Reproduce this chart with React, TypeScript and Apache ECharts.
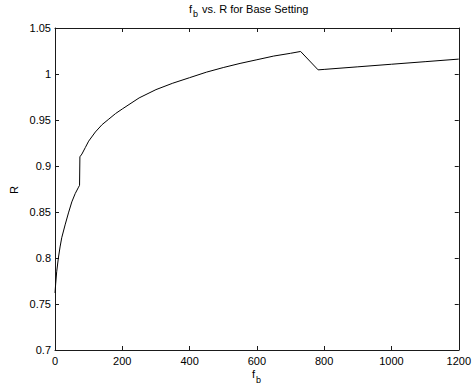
import React, { useEffect, useRef } from "react";
import * as echarts from "echarts";

const fbValues = [0, 2, 5, 10, 15, 20, 30, 40, 50, 60, 70, 73, 74, 80, 90, 100, 120, 140, 160, 180, 200, 250, 300, 350, 400, 450, 500, 550, 600, 650, 700, 730, 782, 800, 900, 1000, 1100, 1200];
const rValues = [0.762, 0.772, 0.785, 0.8, 0.812, 0.822, 0.836, 0.849, 0.861, 0.87, 0.877, 0.879, 0.91, 0.913, 0.92, 0.927, 0.937, 0.945, 0.951, 0.957, 0.962, 0.974, 0.983, 0.99, 0.996, 1.002, 1.007, 1.0115, 1.0155, 1.0195, 1.0225, 1.0245, 1.0045, 1.005, 1.0078, 1.0106, 1.0134, 1.0162];
const xTicks = { min: 0, max: 1200, interval: 200 };
const yTicks = { min: 0.7, max: 1.05, interval: 0.05 };
const titleMain = " vs. R for Base Setting";
const xName = "f";
const sub = "b";
const yName = "R";

const FONT = "'Liberation Sans', Arial, sans-serif";
const AX = "#1a1a1a";

export default function App() {
  const ref = useRef<HTMLDivElement>(null);
  useEffect(() => {
    document.body.style.margin = "0";
    const chart = echarts.init(ref.current!, null, { renderer: "svg" });
    const data = fbValues.map((x, i) => [x, rValues[i]]);
    const tickStyle = { inside: true, length: 4, lineStyle: { color: AX, width: 1 } };
    const lineStyle = { lineStyle: { color: AX, width: 1 } };
    const labelStyle = { color: "#000", fontFamily: FONT, fontSize: 11 };
    chart.setOption({
      animation: false,
      backgroundColor: "#ffffff",
      textStyle: { fontFamily: FONT },
      grid: { left: 55, right: 11, top: 28, bottom: 42, containLabel: false },
      xAxis: [
        {
          type: "value", ...xTicks, position: "bottom",
          axisLine: { show: true, onZero: false, ...lineStyle },
          axisTick: tickStyle,
          axisLabel: { ...labelStyle, margin: 5, formatter: (v: number) => String(v) },
          splitLine: { show: false },
        },
        {
          type: "value", ...xTicks, position: "top",
          axisLine: { show: true, onZero: false, ...lineStyle },
          axisTick: tickStyle,
          axisLabel: { show: false },
          splitLine: { show: false },
        },
      ],
      yAxis: [
        {
          type: "value", ...yTicks, position: "left",
          axisLine: { show: true, onZero: false, ...lineStyle },
          axisTick: tickStyle,
          axisLabel: { ...labelStyle, margin: 4, formatter: (v: number) => String(+v.toFixed(2)) },
          splitLine: { show: false },
        },
        {
          type: "value", ...yTicks, position: "right",
          axisLine: { show: true, onZero: false, ...lineStyle },
          axisTick: tickStyle,
          axisLabel: { show: false },
          splitLine: { show: false },
        },
      ],
      series: [
        {
          type: "line",
          data,
          xAxisIndex: 0,
          yAxisIndex: 0,
          showSymbol: false,
          symbol: "none",
          lineStyle: { color: "#000", width: 1 },
          silent: true,
        },
      ],
      graphic: [
        { type: "text", left: 189, top: 3, style: { text: xName, fontSize: 11, fontFamily: FONT, fill: "#000" } },
        { type: "text", left: 193, top: 9, style: { text: sub, fontSize: 9, fontFamily: FONT, fill: "#000" } },
        { type: "text", left: 199, top: 3, style: { text: titleMain, fontSize: 11, fontFamily: FONT, fill: "#000" } },
        { type: "text", left: 252, top: 368, style: { text: xName, fontSize: 11, fontFamily: FONT, fill: "#000" } },
        { type: "text", left: 256, top: 375, style: { text: sub, fontSize: 9, fontFamily: FONT, fill: "#000" } },
        { type: "text", x: 14, y: 190, rotation: Math.PI / 2, style: { text: yName, fontSize: 11, fontFamily: FONT, fill: "#000", align: "center", verticalAlign: "middle" } },
      ],
    });
    return () => chart.dispose();
  }, []);
  return <div ref={ref} style={{ width: 474, height: 392 }} />;
}
